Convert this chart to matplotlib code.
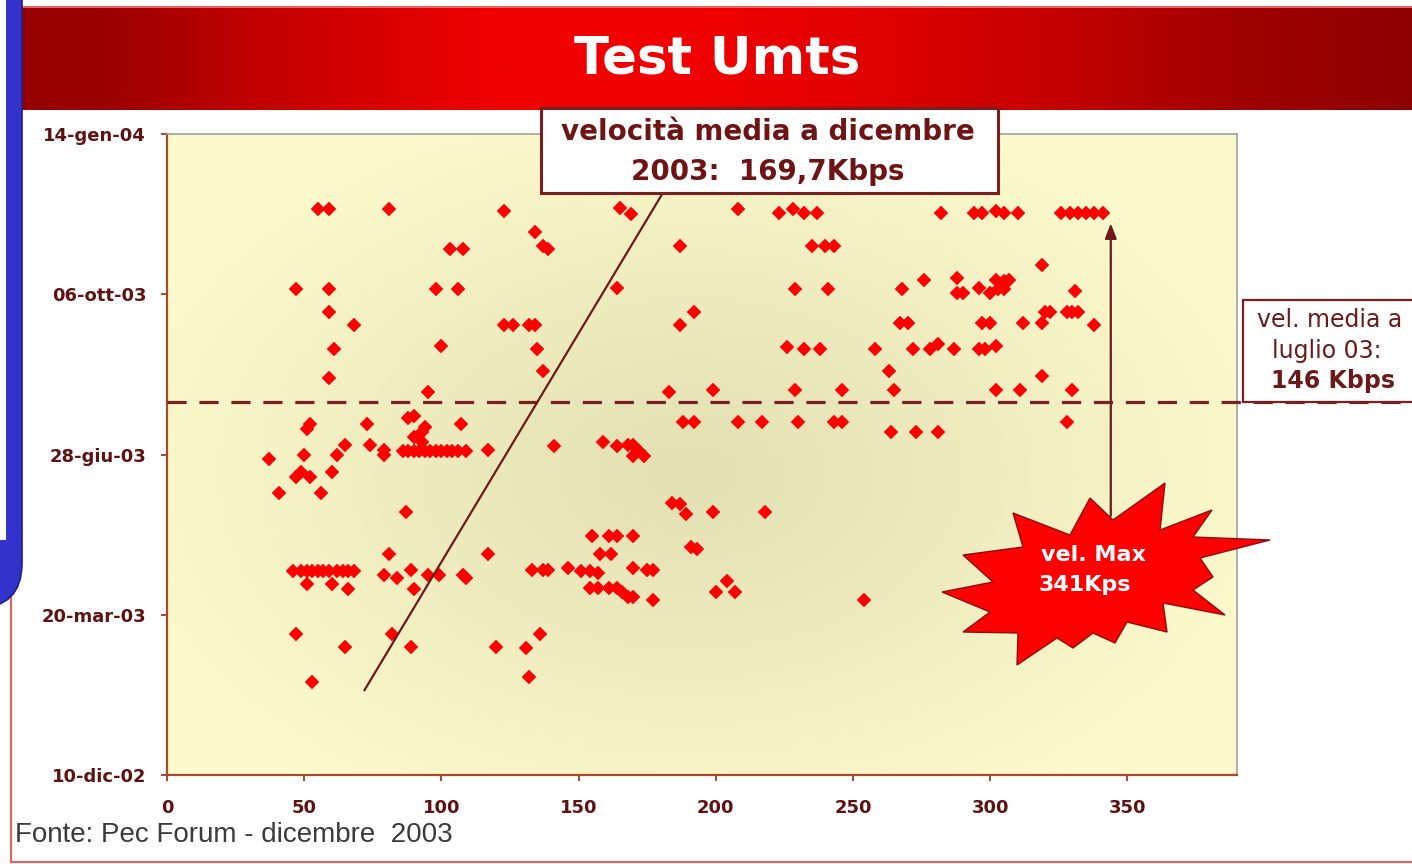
import numpy as np
import matplotlib
matplotlib.use("Agg")
import matplotlib.pyplot as plt
from matplotlib.patches import Rectangle, Polygon, FancyBboxPatch
from matplotlib.transforms import Affine2D
from datetime import datetime, timedelta

W, H = 1412, 864
inizio = datetime(2002, 12, 10)

# velocita' misurate (Kbps) e giorno del test (giorni dal 10-dic-02)
velocita = [
    55, 59, 81, 123, 165, 169, 208, 223, 228, 232, 237, 282, 294, 297, 302, 305, 310, 326, 329, 332, 335, 338, 341,
    134, 103, 108, 137, 139, 187, 235, 240, 243,
    319, 276, 288, 302, 305, 307,
    47, 59, 98, 106, 164, 229, 241, 268, 288, 290, 296, 300, 303, 305, 331,
    59, 192, 320, 322, 328, 330, 332,
    68, 123, 126, 132, 134, 187, 267, 270, 297, 300, 312, 319, 338,
    61, 100, 135, 226, 232, 238, 258, 272, 278, 281, 287, 296, 298, 302,
    59, 137, 263, 319,
    95, 183, 199, 229, 246, 265, 302, 311, 330,
    51, 52, 73, 88, 90, 94, 107, 188, 192, 208, 217, 230, 243, 246, 328, 264, 273, 281, 90, 93, 93,
    37, 50, 62, 65, 74, 79, 79,
    86, 88, 90, 92, 94, 96, 98, 100, 102, 104, 106, 109,
    117, 141, 159, 164, 168, 170, 172, 174, 170,
    47, 49, 52, 60,
    41, 56,
    87, 184, 187, 189, 199, 218,
    155, 161, 164, 170,
    81, 117, 158, 162, 191, 193,
    46, 49, 51, 53, 55, 57, 59, 62, 64, 66, 68,
    79, 84, 89, 95, 99, 108, 109, 133, 137, 139, 146, 151, 154, 157, 170, 175, 177,
    51, 60, 66, 90, 154, 157, 161, 164, 166, 168, 170, 177, 200, 204, 207, 254,
    47, 65, 82, 89, 120, 131, 136,
    53, 132,
]
giorni = [
    353, 353, 353, 352, 354, 350, 353, 351, 353, 351, 351, 351, 351, 351, 352, 351, 351, 351, 351, 351, 351, 351, 351,
    339, 328, 328, 330, 328, 330, 330, 330, 330,
    318, 309, 310, 309, 308, 309,
    303, 303, 303, 303, 304, 303, 303, 303, 301, 301, 304, 301, 303, 303, 302,
    289, 289, 289, 289, 289, 289, 289,
    281, 281, 281, 281, 281, 281, 282, 282, 282, 282, 282, 282, 281,
    266, 268, 266, 267, 266, 266, 266, 266, 266, 269, 266, 266, 266, 268,
    248, 252, 252, 249,
    239, 239, 240, 240, 240, 240, 240, 240, 240,
    216, 219, 219, 223, 224, 217, 219, 220, 220, 220, 220, 220, 220, 220, 220, 214, 214, 214, 211, 214, 208,
    197, 200, 200, 206, 206, 203, 200,
    202, 202, 202, 202, 202, 202, 202, 202, 202, 202, 202, 202,
    203, 205, 208, 205, 206, 206, 202, 199, 199,
    186, 189, 186, 189,
    176, 176,
    164, 170, 169, 163, 164, 164,
    149, 149, 149, 149,
    138, 138, 138, 138, 142, 141,
    127, 127, 127, 127, 127, 127, 127, 127, 127, 127, 127,
    125, 123, 128, 125, 125, 125, 123, 128, 128, 128, 129, 127, 127, 126, 129, 128, 128,
    119, 119, 116, 116, 117, 117, 117, 117, 114, 111, 111, 109, 114, 121, 114, 109,
    88, 80, 88, 80, 80, 79, 88,
    58, 61,
]

tick_x = [0, 50, 100, 150, 200, 250, 300, 350]
tick_giorni = [0, 100, 200, 300, 400]
tick_etichette = ["10-dic-02", "20-mar-03", "28-giu-03", "06-ott-03", "14-gen-04"]

giorno_media_luglio = 232.5
vel_max = 341

date_test = [inizio + timedelta(days=g) for g in giorni]

fig = plt.figure(figsize=(W / 100, H / 100), dpi=100)
fig.patch.set_facecolor("white")
px = Affine2D().scale(1 / W, -1 / H).translate(0, 1) + fig.transFigure

pos = [167 / W, 1 - 775 / H, (1237 - 167) / W, (775 - 134) / H]

# sfondo sfumato del grafico
bg = fig.add_axes(pos, zorder=0)
yy, xx = np.mgrid[0:1:200j, 0:1:300j]
r = np.sqrt(((xx - 0.49) / 0.55) ** 2 + ((yy - 0.47) / 0.6) ** 2)
t = np.clip(1 - r, 0, 1)
bordo = np.array([252, 249, 204]) / 255
centro = np.array([226, 223, 178]) / 255
bg.imshow(bordo + (centro - bordo) * t[..., None], origin="lower", extent=[0, 1, 0, 1], aspect="auto")
bg.axis("off")

ax = fig.add_axes(pos, zorder=1)
ax.set_facecolor("none")
ax.plot(velocita, date_test, ls="none", marker="D", ms=7.6, mfc="#ff0000", mec="#ff0000", mew=0.3, zorder=2)

ax.set_xlim(0, 390)
ax.set_ylim(inizio, inizio + timedelta(days=400))
ax.set_xticks(tick_x)
ax.set_yticks([inizio + timedelta(days=g) for g in tick_giorni])
ax.set_yticklabels(tick_etichette)
ax.tick_params(axis="x", direction="out", length=4, width=1.4, color="#a84a2a", pad=13)
ax.tick_params(axis="y", direction="out", length=4, width=1.4, color="#a84a2a", pad=11)
for lab in ax.get_xticklabels() + ax.get_yticklabels():
    lab.set_fontweight("bold")
    lab.set_fontsize(13)
    lab.set_color("#5e1212")
for s in ["left", "bottom"]:
    ax.spines[s].set_color("#a84a2a")
    ax.spines[s].set_linewidth(1.6)
for s in ["top", "right"]:
    ax.spines[s].set_color("#a0a0a0")
    ax.spines[s].set_linewidth(1.2)

# linea media luglio (tratteggiata, prosegue fino al bordo)
y_lug = inizio + timedelta(days=giorno_media_luglio)
ax.plot([0, 460], [y_lug, y_lug], color="#7a2020", lw=2.3, ls=(0, (6, 4)), clip_on=False, zorder=3)

# linea dal riquadro dicembre
ax.plot([72, 181], [inizio + timedelta(days=53), inizio + timedelta(days=364)],
        color="#6e1a1a", lw=1.6, clip_on=False, zorder=3)

# freccia verso la velocita' massima
ax.annotate("", xy=(vel_max + 3, inizio + timedelta(days=346)), xytext=(vel_max + 3, inizio + timedelta(days=160)),
            arrowprops=dict(arrowstyle="-|>,head_length=0.9,head_width=0.35", color="#6e1a1a", lw=1.6),
            annotation_clip=False, zorder=3)

# banda del titolo
hd = fig.add_axes([22 / W, 1 - 110 / H, 1390 / W, 102 / H], zorder=2)
xs = np.array([22, 100, 250, 500, 700, 900, 1080, 1250, 1412])
rs = np.array([150, 155, 192, 240, 240, 222, 192, 160, 140])
xg = np.linspace(22, 1412, 600)
grad = np.zeros((1, 600, 3))
grad[0, :, 0] = np.interp(xg, xs, rs) / 255
hd.imshow(grad, aspect="auto", extent=[0, 1, 0, 1])
hd.axis("off")
fig.text(717, 60, "Test Umts", transform=px, ha="center", va="center", color="white",
         fontsize=37, fontweight="bold", zorder=6)

# cornice e fascia blu a sinistra
fig.patches.append(Rectangle((11, 7), 1420, 855, transform=px, fill=False, ec="#e86060", lw=1.5, zorder=0.5))
fig.patches.append(FancyBboxPatch((-60, -60), 82, 668, boxstyle="round,pad=0,rounding_size=45",
                                  transform=px, fc="#3333cc", ec="#202080", lw=1.2, zorder=3))
fig.patches.append(Rectangle((0, 0), 6, 540, transform=px, fc="white", ec="none", zorder=3.5))

# riquadro velocita' media dicembre
fig.patches.append(Rectangle((541, 108), 457, 85, transform=px, fc="white", ec="#7a1f1f", lw=2.2, zorder=5))
fig.text(768, 132, "velocità media a dicembre", transform=px, ha="center", va="center",
         color="#6e1414", fontsize=20, fontweight="bold", zorder=6)
fig.text(768, 172, "2003:  169,7Kbps", transform=px, ha="center", va="center",
         color="#6e1414", fontsize=20, fontweight="bold", zorder=6)

# riquadro media luglio
fig.patches.append(Rectangle((1243, 300), 190, 102, transform=px, fc="white", ec="#7a1f1f", lw=1.6, zorder=5))
fig.text(1330, 320, "vel. media a", transform=px, ha="center", va="center", color="#6b1a1a", fontsize=17, zorder=6)
fig.text(1327, 351, "luglio 03:", transform=px, ha="center", va="center", color="#6b1a1a", fontsize=17, zorder=6)
fig.text(1333, 381, "146 Kbps", transform=px, ha="center", va="center", color="#6b1a1a", fontsize=17,
         fontweight="bold", zorder=6)

# esplosione "vel. Max"
stella = [(1165, 483), (1160, 530), (1212, 510), (1193, 537), (1270, 540), (1200, 558), (1213, 577),
          (1193, 590), (1225, 615), (1163, 603), (1167, 632), (1127, 622), (1115, 643), (1093, 633),
          (1073, 648), (1057, 638), (1017, 665), (1018, 633), (963, 632), (990, 612), (942, 592),
          (993, 582), (963, 555), (1023, 547), (1013, 513), (1070, 535), (1090, 498), (1113, 520)]
fig.patches.append(Polygon(stella, closed=True, transform=px, fc="#ff0000", ec="#8a1010", lw=1, zorder=5))
fig.text(1093, 555, "vel. Max", transform=px, ha="center", va="center", color="white", fontsize=16,
         fontweight="bold", zorder=6)
fig.text(1085, 585, "341Kps", transform=px, ha="center", va="center", color="white", fontsize=16,
         fontweight="bold", zorder=6)

fig.text(15, 835, "Fonte: Pec Forum - dicembre  2003", transform=px, ha="left", va="center",
         color="#3a3a3a", fontsize=20, family="Liberation Sans", zorder=6)

fig.savefig("out.png", dpi=100)
